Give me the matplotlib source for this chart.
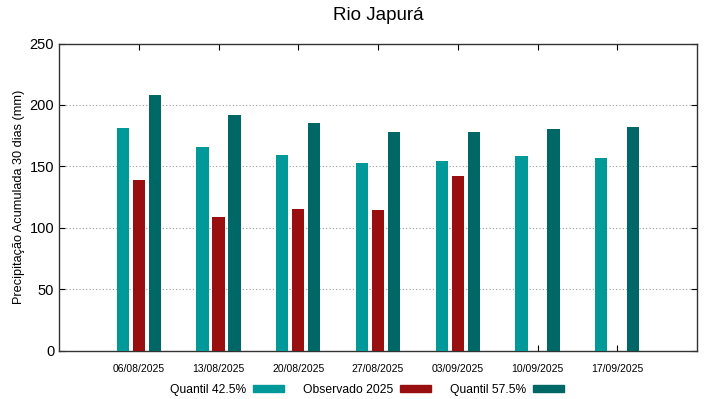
import matplotlib
matplotlib.use("Agg")
import matplotlib.pyplot as plt
import matplotlib.patches as mpatches
import numpy as np

plt.rcParams['font.family'] = ['Liberation Sans', 'DejaVu Sans']

# dados
datas = ["06/08/2025", "13/08/2025", "20/08/2025", "27/08/2025",
         "03/09/2025", "10/09/2025", "17/09/2025"]
quantil_425 = [181, 166, 159, 153, 154, 158.5, 157]
observado = [139, 109, 115, 114.5, 142, np.nan, np.nan]
quantil_575 = [208, 192, 185, 178, 178, 180.5, 182]

cor_q1 = "#009999"
cor_obs = "#990f0f"
cor_q2 = "#006767"

fig = plt.figure(figsize=(7.19, 3.99), dpi=100)
ax = fig.add_axes([59/719, 1 - 350.5/399, (697-59)/719, (350.5-43.5)/399])

x = np.arange(len(datas))
w = 0.155
ax.bar(x - 0.2, quantil_425, w, color=cor_q1, zorder=3)
ax.bar(x, observado, w, color=cor_obs, zorder=3)
ax.bar(x + 0.2, quantil_575, w, color=cor_q2, zorder=3)

ax.set_xlim(-1, 7)
ax.set_ylim(0, 250)
ax.set_xticks(x)
ax.set_xticklabels(datas, fontsize=7.5)
ax.set_yticks([0, 50, 100, 150, 200, 250])
ax.tick_params(axis='y', labelsize=10.5, direction='in', length=4, right=True)
ax.tick_params(axis='x', direction='in', length=4, top=True, pad=10)
for yv in [50, 100, 150, 200]:
    ax.axhline(yv, color="#999999", lw=0.8, ls=(0, (1, 2)), zorder=1)
for s in ax.spines.values():
    s.set_linewidth(1.0)
    s.set_color("#333333")

ax.set_ylabel("Precipitação Acumulada 30 dias (mm)", fontsize=9.2, labelpad=3)
fig.text(378/719, 1 - 16/399, "Rio Japurá", ha='center', va='center', fontsize=13.5)

handles = [mpatches.Patch(color=cor_q1, label="Quantil 42.5%"),
           mpatches.Patch(color=cor_obs, label="Observado 2025"),
           mpatches.Patch(color=cor_q2, label="Quantil 57.5%")]
fig.legend(handles=handles, loc='center', bbox_to_anchor=(367/719, 1 - 390/399),
           ncol=3, frameon=False, markerfirst=False, fontsize=8.7,
           handlelength=2.6, handleheight=0.45, columnspacing=1.5, handletextpad=0.6,
           borderpad=0, borderaxespad=0)

fig.savefig("out.png", dpi=100)
